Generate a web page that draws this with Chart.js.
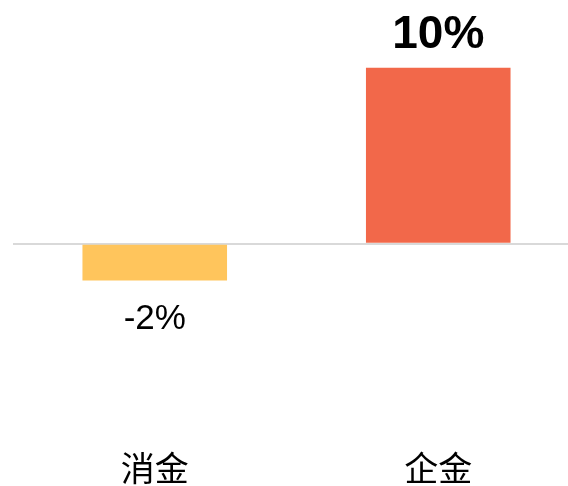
<!DOCTYPE html>
<html>
<head>
<meta charset="utf-8">
<script src="https://cdn.jsdelivr.net/npm/chart.js@4.4.1/dist/chart.umd.min.js"></script>
<style>
  html, body { margin: 0; padding: 0; background: #fff; overflow: hidden; }
  #wrap { width: 580px; height: 486px; }
</style>
</head>
<body>
<div id="wrap"><canvas id="barChart" width="580" height="486"></canvas></div>
<script>
// chart data
const categories = ['消金', '企金'];
const growthValues = [-2.1, 10];
const valueLabels = ['-2%', '10%'];
const barColors = ['#FFC55C', '#F2684A'];

// draws the value text above / below each bar
const valueLabelPlugin = {
  id: 'valueLabels',
  afterDatasetsDraw(chart) {
    const ctx = chart.ctx;
    const meta = chart.getDatasetMeta(0);
    ctx.save();
    ctx.fillStyle = '#000';
    ctx.textAlign = 'center';
    ctx.textBaseline = 'alphabetic';
    meta.data.forEach((bar, i) => {
      const v = growthValues[i];
      if (v >= 0) {
        ctx.font = 'bold 46px "Liberation Sans", Arial, sans-serif';
        ctx.fillText(valueLabels[i], bar.x, bar.y - 20);
      } else {
        ctx.font = '35px "Liberation Sans", Arial, sans-serif';
        ctx.fillText(valueLabels[i], bar.x, bar.y + 48);
      }
    });
    ctx.restore();
  }
};

new Chart(document.getElementById('barChart').getContext('2d'), {
  type: 'bar',
  data: {
    labels: categories,
    datasets: [{
      data: growthValues,
      backgroundColor: barColors,
      borderWidth: 0,
      barPercentage: 0.51,
      categoryPercentage: 1
    }]
  },
  options: {
    responsive: false,
    animation: false,
    layout: { padding: { left: 13, right: 0, top: 15, bottom: -2 } },
    plugins: { legend: { display: false }, tooltip: { enabled: false } },
    scales: {
      x: {
        border: { display: false },
        grid: { display: false, drawTicks: false },
        ticks: {
          padding: 0,
          color: '#000',
          font: { family: '"Noto Sans CJK SC", sans-serif', size: 34 }
        }
      },
      y: {
        min: -11.57,
        max: 13,
        border: { display: false },
        ticks: { display: false, stepSize: 1 },
        grid: {
          drawTicks: false,
          color: (c) => (c.tick && c.tick.value === 0 ? '#d9d9d9' : 'rgba(0,0,0,0)'),
          lineWidth: 2
        }
      }
    }
  },
  plugins: [valueLabelPlugin]
});
</script>
</body>
</html>
